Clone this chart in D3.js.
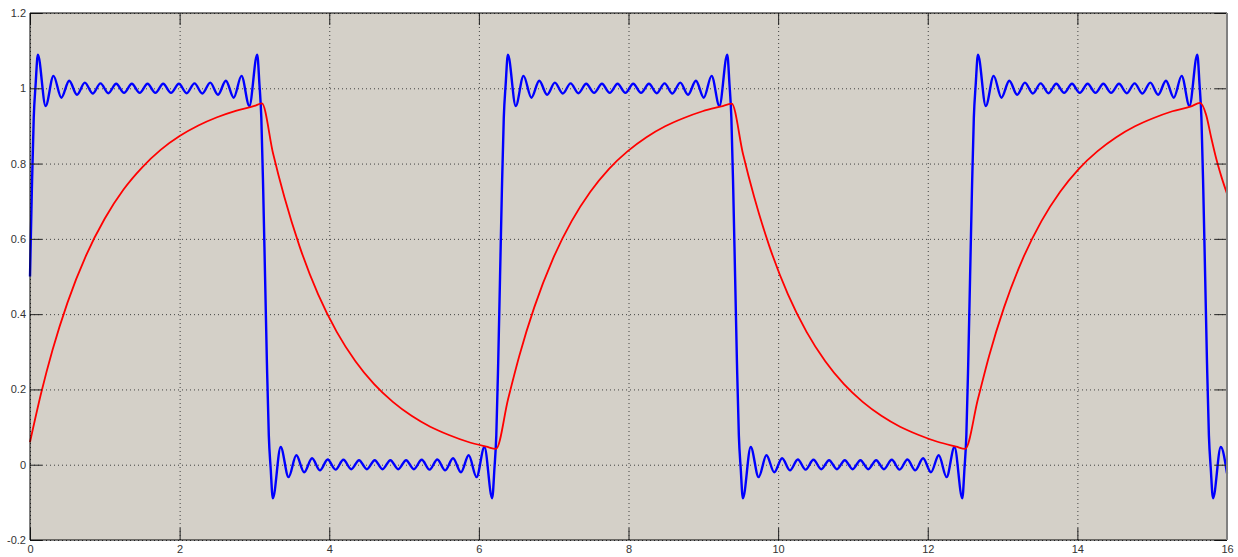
<!DOCTYPE html>
<html>
<head>
<meta charset="utf-8">
<script src="https://cdn.jsdelivr.net/npm/d3@7"></script>
<style>
  body { margin: 0; background: #fff; }
  svg { display: block; }
  .tick text { font-family: "Liberation Sans", Arial, sans-serif; font-size: 11px; fill: #333; }
</style>
</head>
<body>
<svg id="chart" width="1238" height="557"></svg>
<script>
// tick values
const xTicks = [0, 2, 4, 6, 8, 10, 12, 14, 16];
const yTicks = [-0.2, 0, 0.2, 0.4, 0.6, 0.8, 1, 1.2];
const yTickLabels = ["-0.2", "0", "0.2", "0.4", "0.6", "0.8", "1", "1.2"];

// blue: square wave partial sum (x, y)
const bluePoints = [
  [0, 0.5], [0.025, 0.731], [0.05, 0.922], [0.075, 1.010],
  [0.105, 1.089], [0.209, 0.953], [0.314, 1.033], [0.419, 0.975], [0.524, 1.020], [0.628, 0.983], [0.733, 1.015], [0.838, 0.986],
  [0.942, 1.013], [1.047, 0.987], [1.152, 1.012], [1.257, 0.988], [1.361, 1.012], [1.466, 0.988], [1.571, 1.012], [1.676, 0.988],
  [1.780, 1.012], [1.885, 0.988], [1.990, 1.012], [2.094, 0.987], [2.199, 1.013], [2.304, 0.986], [2.409, 1.015], [2.513, 0.983],
  [2.618, 1.020], [2.723, 0.975], [2.827, 1.033], [2.932, 0.953], [3.037, 1.089],
  [3.067, 1.010], [3.092, 0.922], [3.117, 0.731], [3.142, 0.5], [3.167, 0.269], [3.192, 0.078], [3.217, -0.010],
  [3.246, -0.089], [3.351, 0.047], [3.456, -0.033], [3.560, 0.025], [3.665, -0.020], [3.770, 0.017], [3.875, -0.015], [3.979, 0.014],
  [4.084, -0.013], [4.189, 0.013], [4.294, -0.012], [4.398, 0.012], [4.503, -0.012], [4.608, 0.012], [4.712, -0.012], [4.817, 0.012],
  [4.922, -0.012], [5.027, 0.012], [5.131, -0.012], [5.236, 0.013], [5.341, -0.013], [5.445, 0.014], [5.550, -0.015], [5.655, 0.017],
  [5.760, -0.020], [5.864, 0.025], [5.969, -0.033], [6.074, 0.047], [6.178, -0.089],
  [6.208, -0.010], [6.233, 0.078], [6.258, 0.269], [6.283, 0.5], [6.308, 0.731], [6.333, 0.922], [6.358, 1.010],
  [6.388, 1.089], [6.493, 0.953], [6.597, 1.033], [6.702, 0.975], [6.807, 1.020], [6.912, 0.983], [7.016, 1.015], [7.121, 0.986],
  [7.226, 1.013], [7.330, 0.987], [7.435, 1.012], [7.540, 0.988], [7.645, 1.012], [7.749, 0.988], [7.854, 1.012], [7.959, 0.988],
  [8.063, 1.012], [8.168, 0.988], [8.273, 1.012], [8.378, 0.987], [8.482, 1.013], [8.587, 0.986], [8.692, 1.015], [8.796, 0.983],
  [8.901, 1.020], [9.006, 0.975], [9.111, 1.033], [9.215, 0.953], [9.320, 1.089],
  [9.350, 1.010], [9.375, 0.922], [9.400, 0.731], [9.425, 0.5], [9.450, 0.269], [9.475, 0.078], [9.500, -0.010],
  [9.529, -0.089], [9.634, 0.047], [9.739, -0.033], [9.844, 0.025], [9.948, -0.020], [10.053, 0.017], [10.158, -0.015], [10.263, 0.014],
  [10.367, -0.013], [10.472, 0.013], [10.577, -0.012], [10.681, 0.012], [10.786, -0.012], [10.891, 0.012], [10.996, -0.012], [11.100, 0.012],
  [11.205, -0.012], [11.310, 0.012], [11.414, -0.012], [11.519, 0.013], [11.624, -0.013], [11.729, 0.014], [11.833, -0.015], [11.938, 0.017],
  [12.043, -0.020], [12.147, 0.025], [12.252, -0.033], [12.357, 0.047], [12.462, -0.089],
  [12.491, -0.010], [12.516, 0.078], [12.541, 0.269], [12.566, 0.5], [12.591, 0.731], [12.616, 0.922], [12.641, 1.010],
  [12.671, 1.089], [12.776, 0.953], [12.881, 1.033], [12.985, 0.975], [13.090, 1.020], [13.195, 0.983], [13.299, 1.015], [13.404, 0.986],
  [13.509, 1.013], [13.614, 0.987], [13.718, 1.012], [13.823, 0.988], [13.928, 1.012], [14.032, 0.988], [14.137, 1.012], [14.242, 0.988],
  [14.347, 1.012], [14.451, 0.988], [14.556, 1.012], [14.661, 0.987], [14.765, 1.013], [14.870, 0.986], [14.975, 1.015], [15.080, 0.983],
  [15.184, 1.020], [15.289, 0.975], [15.394, 1.033], [15.498, 0.953], [15.603, 1.089],
  [15.633, 1.010], [15.658, 0.922], [15.683, 0.731], [15.708, 0.5], [15.733, 0.269], [15.758, 0.078], [15.783, -0.010],
  [15.813, -0.089], [15.917, 0.047], [16, -0.023]
];

// red: filtered response (x, y)
const redPoints = [
  [0, 0.06], [0.15, 0.191], [0.3, 0.304], [0.5, 0.430], [0.75, 0.556], [1.0, 0.654], [1.25, 0.731], [1.5, 0.790],
  [1.75, 0.837], [2.0, 0.873], [2.25, 0.901], [2.5, 0.923], [2.75, 0.940], [3.0, 0.953], [3.1, 0.960],
  [3.25, 0.826], [3.4, 0.711], [3.6, 0.582], [3.85, 0.453], [4.1, 0.353], [4.35, 0.275], [4.6, 0.214], [4.85, 0.167],
  [5.1, 0.130], [5.35, 0.101], [5.6, 0.079], [5.85, 0.061], [6.1, 0.048], [6.23, 0.042],
  [6.39, 0.174], [6.54, 0.289], [6.74, 0.418], [6.99, 0.547], [7.24, 0.647], [7.49, 0.725], [7.74, 0.786], [7.99, 0.833],
  [8.24, 0.870], [8.49, 0.899], [8.74, 0.921], [8.99, 0.939], [9.24, 0.952], [9.38, 0.959],
  [9.53, 0.826], [9.68, 0.711], [9.88, 0.582], [10.13, 0.453], [10.38, 0.353], [10.63, 0.275], [10.88, 0.214], [11.13, 0.167],
  [11.38, 0.130], [11.63, 0.101], [11.88, 0.079], [12.13, 0.061], [12.38, 0.048], [12.50, 0.042],
  [12.67, 0.174], [12.82, 0.289], [13.02, 0.418], [13.27, 0.547], [13.52, 0.647], [13.77, 0.725], [14.02, 0.786], [14.27, 0.833],
  [14.52, 0.870], [14.77, 0.899], [15.02, 0.921], [15.27, 0.939], [15.52, 0.952], [15.64, 0.961],
  [15.72, 0.930], [15.79, 0.868], [15.86, 0.810], [15.93, 0.762], [16, 0.720]
];

const margin = { top: 13, right: 11, bottom: 17, left: 30 };
const width = 1238 - margin.left - margin.right;
const height = 557 - margin.top - margin.bottom;

const x = d3.scaleLinear().domain([0, 16]).range([0, width]);
const y = d3.scaleLinear().domain([-0.2, 1.2]).range([height, 0]);

const svg = d3.select("#chart")
  .append("g")
  .attr("transform", `translate(${margin.left},${margin.top})`);

// axes background
svg.append("rect")
  .attr("width", width)
  .attr("height", height)
  .attr("fill", "#d4d0c8");

// dotted grid
const gridX = svg.append("g")
  .attr("transform", `translate(0,${height})`)
  .call(d3.axisBottom(x).tickValues(xTicks).tickSize(-height).tickFormat(""));
const gridY = svg.append("g")
  .call(d3.axisLeft(y).tickValues(yTicks).tickSize(-width).tickFormat(""));
[gridX, gridY].forEach(g => {
  g.select(".domain").remove();
  g.selectAll("line")
    .attr("stroke", "#404040")
    .attr("stroke-dasharray", "1,3");
});

// curves
const line = d3.line()
  .x(d => x(d[0]))
  .y(d => y(d[1]))
  .curve(d3.curveMonotoneX);

svg.append("path")
  .datum(bluePoints)
  .attr("fill", "none")
  .attr("stroke", "#0000ff")
  .attr("stroke-width", 2.4)
  .attr("stroke-linejoin", "round")
  .attr("d", line);

svg.append("path")
  .datum(redPoints)
  .attr("fill", "none")
  .attr("stroke", "#ff0000")
  .attr("stroke-width", 1.8)
  .attr("stroke-linejoin", "round")
  .attr("d", line);

// ticks on all four sides, pointing inwards
const bottomAxis = svg.append("g")
  .attr("transform", `translate(0,${height})`)
  .call(d3.axisBottom(x).tickValues(xTicks).tickSize(-12).tickPadding(5).tickFormat(d => String(d)));
const leftAxis = svg.append("g")
  .call(d3.axisLeft(y).tickValues(yTicks).tickSize(-12).tickPadding(4)
    .tickFormat((d, i) => yTickLabels[i]));
const topAxis = svg.append("g")
  .call(d3.axisTop(x).tickValues(xTicks).tickSize(-12).tickFormat(""));
const rightAxis = svg.append("g")
  .attr("transform", `translate(${width},0)`)
  .call(d3.axisRight(y).tickValues(yTicks).tickSize(-12).tickFormat(""));
[bottomAxis, leftAxis, topAxis, rightAxis].forEach(g => {
  g.select(".domain").remove();
  g.selectAll("line").attr("stroke", "#222");
});

// axes box
svg.append("line").attr("x1", 0).attr("x2", width).attr("y1", 0).attr("y2", 0).attr("stroke", "#000");
svg.append("line").attr("x1", 0).attr("x2", width).attr("y1", height).attr("y2", height).attr("stroke", "#000");
svg.append("line").attr("x1", 0).attr("x2", 0).attr("y1", 0).attr("y2", height).attr("stroke", "#000");
svg.append("line").attr("x1", width).attr("x2", width).attr("y1", 0).attr("y2", height)
  .attr("stroke", "#808080").attr("stroke-width", 2);
</script>
</body>
</html>
